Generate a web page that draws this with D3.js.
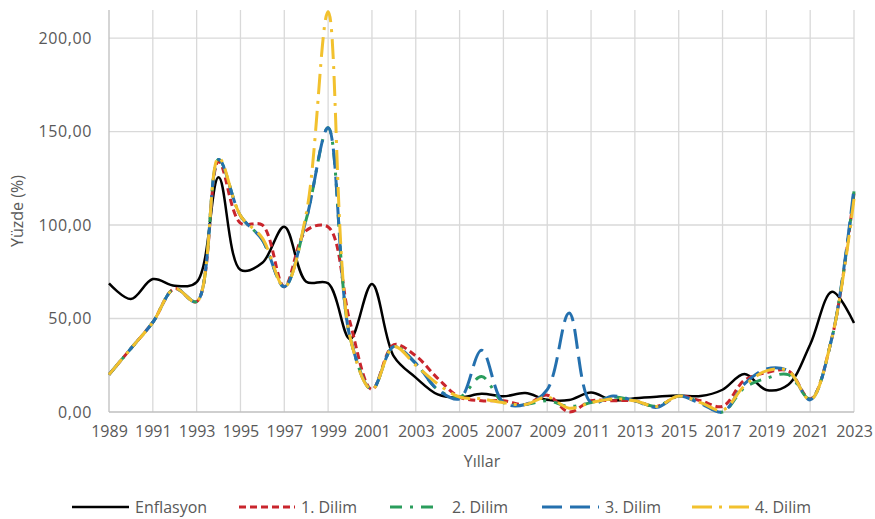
<!DOCTYPE html>
<html><head><meta charset="utf-8">
<script src="https://cdn.jsdelivr.net/npm/d3@7"></script>
<style>
body{margin:0;background:#fff;}
svg{display:block;}
text{font-family:"Open Sans",sans-serif;fill:#595959;}
</style></head>
<body><svg id="c" width="875" height="519"></svg>
<script>
const years = d3.range(1989, 2024);
const xTickYears = d3.range(1989, 2024, 2);
const yTicks = [0, 50, 100, 150, 200];
const seriesNames = ["Enflasyon", "1. Dilim", "2. Dilim", "3. Dilim", "4. Dilim"];

const enflasyon = [68.8,60.4,71.1,67.5,69.5,125.5,76.0,79.8,99.1,69.7,68.8,39.0,68.5,29.7,18.4,9.4,7.7,9.7,8.4,10.1,6.5,6.4,10.4,6.2,7.4,8.2,8.8,8.5,11.9,20.3,11.8,14.6,36.1,64.3,47.6];
const dilim1 = [20,34,48,66,59,134,101,100,67,97,99,48,12,36,30,18,8,6,6,4,9,0,6,6,6,3,8.5,6,3,17,21,22,7,40,117];
const dilim2 = [20,34,48,66,59,135,105,92,67,103,152,40,12,35,26,12,8,19,5,4,6,3,5,8,6,3,8.5,5,0,13,18,20,7,40,118];
const dilim3 = [20,34,48,66,59,135,105,92,67,103,152,40,12,35,26,12,7,33,5,4,12,53,5,8.5,6,2.5,8.5,4.5,0,15,23,22,6.5,40,120];
const dilim4 = [20,34,48,66,59,136,105,93,67,106,214,40,12,35,25,15,8,7,5,4,8,2,5,7,6,3,8.5,5,1,14,22,22,6.5,40,114];

const allSeries = [enflasyon, dilim1, dilim2, dilim3, dilim4];
const colors = ["#000000", "#C9252C", "#2A9D5C", "#2470AE", "#F2C12E"];
const dashes = [null, "7,4", "12,8,3,8", "20,8", "20,7,3,7"];
const widths = [2.5, 3, 3, 3, 3];

const svg = d3.select("#c");
const x = d3.scaleLinear().domain([1989, 2023]).range([109, 854]);
const y = d3.scaleLinear().domain([0, 215]).range([412, 10]);

// gridlines
svg.append("g").selectAll("line.h").data(yTicks.filter(d => d > 0)).join("line")
  .attr("x1", 109).attr("x2", 854).attr("y1", d => y(d)).attr("y2", d => y(d))
  .attr("stroke", "#D9D9D9").attr("stroke-width", 1.3);
svg.append("g").selectAll("line.v").data(xTickYears).join("line")
  .attr("x1", d => x(d)).attr("x2", d => x(d)).attr("y1", y(215)).attr("y2", y(0))
  .attr("stroke", d => d === 1989 ? "#BFBFBF" : "#D9D9D9").attr("stroke-width", 1.3);
svg.append("line").attr("x1", 109).attr("x2", 854).attr("y1", y(0)).attr("y2", y(0))
  .attr("stroke", "#BFBFBF").attr("stroke-width", 1.3);

// axes labels via d3 axes
const yAxis = svg.append("g").attr("transform", "translate(109,0)")
  .call(d3.axisLeft(y).tickValues(yTicks).tickSize(0).tickPadding(17)
    .tickFormat(d => d3.format(".2f")(d).replace(".", ",")));
yAxis.select(".domain").remove();
yAxis.selectAll("text").attr("font-size", 16).attr("letter-spacing", 0.6).attr("fill", "#595959").attr("font-family", "Open Sans");

const xAxis = svg.append("g").attr("transform", `translate(0,${y(0)})`)
  .call(d3.axisBottom(x).tickValues(xTickYears).tickSize(0).tickPadding(14).tickFormat(d3.format("d")));
xAxis.select(".domain").remove();
xAxis.selectAll("text").attr("font-size", 16).attr("fill", "#595959").attr("font-family", "Open Sans");

svg.append("text").attr("x", 482).attr("y", 467).attr("text-anchor", "middle")
  .attr("font-size", 16).text("Yıllar");
svg.append("text").attr("transform", "translate(23,211) rotate(-90)").attr("text-anchor", "middle")
  .attr("font-size", 16).text("Yüzde (%)");

// lines
const line = d3.line().x((d, i) => x(years[i])).y(d => y(d)).curve(d3.curveCatmullRom.alpha(0.5));
allSeries.forEach((s, k) => {
  svg.append("path").attr("d", line(s)).attr("fill", "none")
    .attr("stroke", colors[k]).attr("stroke-width", widths[k])
    .attr("stroke-dasharray", dashes[k]).attr("stroke-linejoin", "round");
});

// legend
const legX = [72, 239, 390, 542, 692];
const legW = [57, 56, 46, 57, 57];
const legTX = [135, 301, 452, 605, 755];
seriesNames.forEach((n, k) => {
  svg.append("line").attr("x1", legX[k]).attr("x2", legX[k] + legW[k]).attr("y1", 507).attr("y2", 507)
    .attr("stroke", colors[k]).attr("stroke-width", widths[k]).attr("stroke-dasharray", dashes[k]);
  svg.append("text").attr("x", legTX[k]).attr("y", 513).attr("font-size", 16).text(n);
});
</script></body></html>
